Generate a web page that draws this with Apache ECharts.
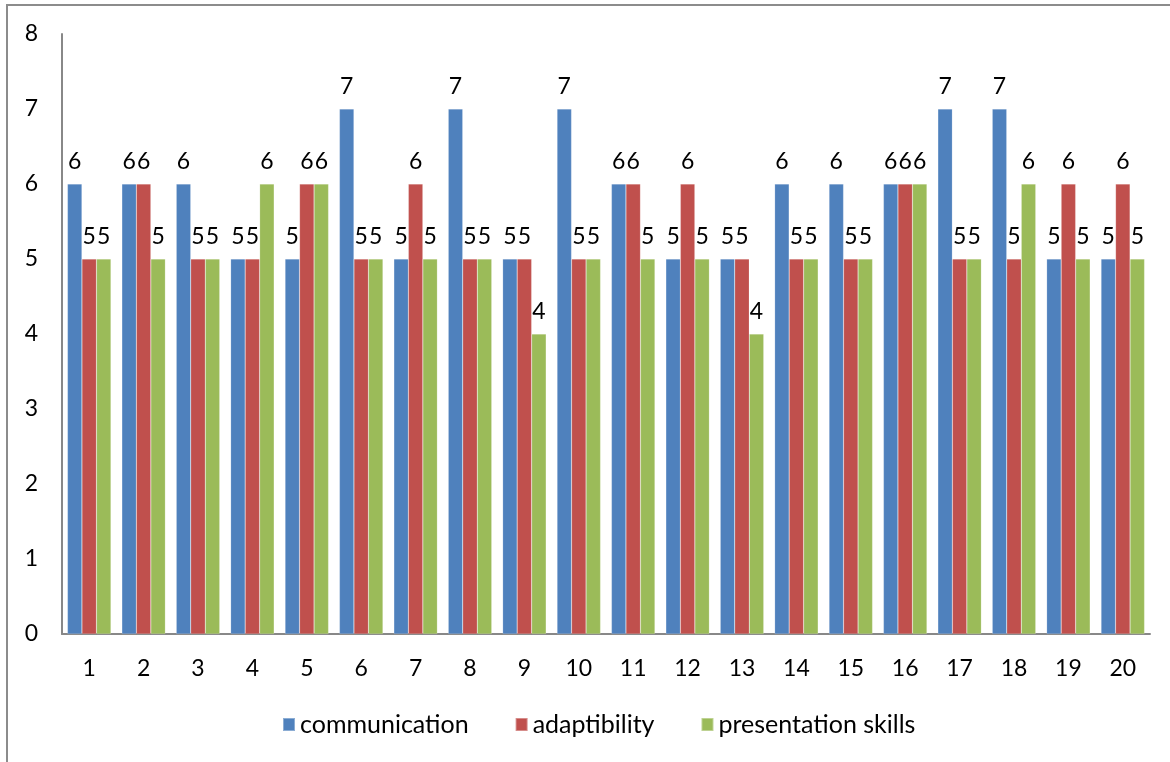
<!DOCTYPE html>
<html>
<head>
<meta charset="utf-8">
<script src="https://cdn.jsdelivr.net/npm/echarts@6/dist/echarts.min.js"></script>
<style>
  html, body { margin: 0; padding: 0; background: #fff; }
  #chart { width: 1170px; height: 762px; }
</style>
</head>
<body>
<div id="chart"></div>
<script>
const categories = ["1","2","3","4","5","6","7","8","9","10","11","12","13","14","15","16","17","18","19","20"];
const communication = [6,6,6,5,5,7,5,7,5,7,6,5,5,6,6,6,7,7,5,5];
const adaptibility  = [5,6,5,5,6,5,6,5,5,5,6,6,5,5,5,6,5,5,6,6];
const presentation  = [5,5,5,6,6,5,5,5,4,5,5,5,4,5,5,6,5,6,5,5];
const seriesNames = ["communication", "adaptibility", "presentation skills"];
const colors = ["#4F81BD", "#C0504D", "#9BBB59"];

const font = "Lato, 'Open Sans', sans-serif";
const chart = echarts.init(document.getElementById("chart"));

const makeSeries = (name, data, color) => ({
  name,
  type: "bar",
  data,
  barGap: "0%",
  barCategoryGap: "20%",
  itemStyle: { color, borderColor: "rgba(255,255,255,0.35)", borderWidth: 0.5 },
  label: {
    show: true,
    position: "top",
    distance: 11,
    color: "#000",
    fontSize: 23,
    fontFamily: font
  }
});

chart.setOption({
  animation: false,
  graphic: [{
    type: "rect",
    shape: { x: 7, y: 5, width: 1200, height: 800 },
    style: { fill: "none", stroke: "#8c8c8c", lineWidth: 2 }
  }],
  grid: { left: 62, right: 20, top: 34, bottom: 128, containLabel: false },
  legend: {
    bottom: 20,
    left: 277,
    itemWidth: 12,
    itemHeight: 13,
    itemGap: 46,
    icon: "rect",
    textStyle: { fontSize: 25, fontFamily: font, color: "#000" },
    data: seriesNames
  },
  xAxis: {
    type: "category",
    data: categories,
    axisLine: { lineStyle: { color: "#888", width: 2 } },
    axisTick: { show: false },
    axisLabel: { fontSize: 23, fontFamily: font, color: "#000", margin: 23 }
  },
  yAxis: {
    type: "value",
    min: 0,
    max: 8,
    interval: 1,
    axisLine: { show: true, lineStyle: { color: "#888", width: 2 } },
    axisTick: { show: false },
    splitLine: { show: false },
    axisLabel: { fontSize: 23, fontFamily: font, color: "#000", margin: 24 }
  },
  series: [
    makeSeries(seriesNames[0], communication, colors[0]),
    makeSeries(seriesNames[1], adaptibility, colors[1]),
    makeSeries(seriesNames[2], presentation, colors[2])
  ]
});
</script>
</body>
</html>
